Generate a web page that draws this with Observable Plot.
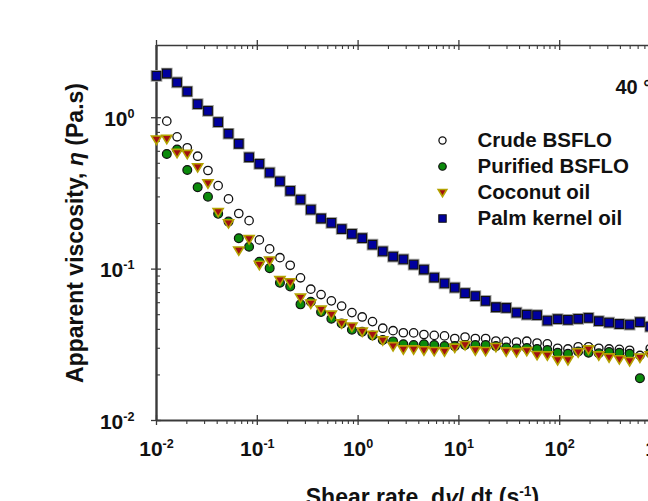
<!DOCTYPE html>
<html><head><meta charset="utf-8">
<script src="https://cdn.jsdelivr.net/npm/d3@7"></script>
<script src="https://cdn.jsdelivr.net/npm/@observablehq/plot@0.6"></script>
<style>
html,body{margin:0;padding:0;background:#fff;overflow:hidden;width:648px;height:501px}
#chart{width:648px;height:501px;overflow:hidden}
#chart svg{display:block;max-width:none!important}
</style></head><body><div id="chart"></div>
<script>
// Shear rate (1/s)
const shearRate = [0.0100,0.01265,0.0160,0.0202,0.0256,0.0324,0.0409,0.0518,0.0655,0.0829,
  0.1048,0.1326,0.1677,0.2121,0.2683,0.3393,0.4292,0.5429,0.6866,0.8685,
  1.0985,1.389,1.757,2.223,2.812,3.556,4.498,5.690,7.197,9.103,
  11.51,14.56,18.42,23.30,29.47,37.28,47.15,59.64,75.43,95.41,
  120.7,152.6,193.1,244.2,308.9,390.7,494.1,625.0,790.6,1000];
// Apparent viscosity (Pa.s)
const crudeBSFLO = [null,0.949,0.748,0.633,0.557,0.448,0.356,0.291,0.233,0.209,
  0.156,0.136,0.119,0.106,0.0876,0.0737,0.0679,0.0617,0.0570,0.0516,
  0.0483,0.0450,0.0407,0.0392,0.0380,0.0379,0.0370,0.0365,0.0362,0.0348,
  0.0356,0.0348,0.0348,0.0335,0.0333,0.0330,0.0334,0.0325,0.0321,0.0300,
  0.0297,0.0307,0.0307,0.0300,0.0297,0.0295,0.0291,0.0269,0.0299,0.0300];
const purifiedBSFLO = [null,0.576,0.617,0.452,0.347,0.301,0.232,0.206,0.160,0.1405,
  0.1117,0.1015,0.0812,0.0769,0.0585,0.0609,0.0521,0.0470,0.0438,0.0398,
  0.0386,0.0364,0.0340,0.0333,0.0319,0.0315,0.0319,0.0315,0.0310,0.0310,
  0.0315,0.0315,0.0315,0.0310,0.0303,0.0299,0.0301,0.0297,0.0292,0.0280,
  0.0276,0.0286,0.0280,0.0278,0.0283,0.0280,0.0276,0.0190,0.0279,0.0280];
const coconutOil = [0.718,0.726,0.586,0.577,0.471,0.369,0.2385,0.2010,0.1328,0.1580,
  0.1068,0.1140,0.0846,0.0818,0.0648,0.0592,0.0540,0.0500,0.0438,0.0418,
  0.0387,0.0368,0.0338,0.0310,0.0295,0.0295,0.0291,0.0288,0.0286,0.0303,
  0.0315,0.0291,0.0288,0.0306,0.0286,0.0283,0.0288,0.0271,0.0269,0.0251,
  0.0251,0.0282,0.0295,0.0269,0.0261,0.0254,0.0247,0.0260,0.0269,0.0270];
const palmKernelOil = [1.89,1.96,1.71,1.49,1.23,1.11,0.935,0.784,0.673,0.548,
  0.496,0.434,0.380,0.329,0.288,0.247,0.216,0.202,0.184,0.171,
  0.160,0.145,0.131,0.121,0.116,0.107,0.0993,0.0880,0.0805,0.0755,
  0.0694,0.0663,0.0617,0.0560,0.0554,0.0516,0.0500,0.0496,0.0457,0.0467,
  0.0462,0.0469,0.0476,0.0453,0.0443,0.0434,0.0430,0.0446,0.0417,0.0420];

const seriesNames = ["Crude BSFLO","Purified BSFLO","Coconut oil","Palm kernel oil"];
const seriesValues = [crudeBSFLO, purifiedBSFLO, coconutOil, palmKernelOil];
const xTickExps = [-2,-1,0,1,2,3];
const yTickExps = [-2,-1,0];
const xDomain = [0.01, 1000];
const yDomain = [0.01, 3];
const xTitle = "Shear rate, d*γ*/ dt (s^{-1})";
const yTitle = "Apparent viscosity, *η* (Pa.s)";
const tempLabel = "40 °C";

// minor ticks
const xMinor = [], yMinor = [];
for (let e = -2; e <= 2; e++) for (let m = 2; m <= 9; m++) xMinor.push(m * 10 ** e);
for (let e = -2; e <= 0; e++) for (let m = 2; m <= 9; m++) { const v = m * 10 ** e; if (v < yDomain[1]) yMinor.push(v); }

const rows = [];
seriesNames.forEach((s, i) => seriesValues[i].forEach((v, k) => { if (v != null) rows.push({x: shearRate[k], y: v, series: s}); }));

const downTriangle = {
  draw(ctx, size) {
    const r = Math.sqrt(size / Math.PI);
    ctx.moveTo(-1.15 * r, -0.8 * r);
    ctx.lineTo(1.15 * r, -0.8 * r);
    ctx.lineTo(0, 1.1 * r);
    ctx.closePath();
  }
};
const styles = {
  "Crude BSFLO": {symbol: "circle", fill: "#fff", stroke: "#111", strokeWidth: 1.3, r: 4.2},
  "Purified BSFLO": {symbol: "circle", fill: "#0b8a0b", stroke: "#111", strokeWidth: 1.2, r: 4.4},
  "Coconut oil": {symbol: downTriangle, fill: "#a31010", stroke: "#b3a200", strokeWidth: 1.6, r: 4.4},
  "Palm kernel oil": {symbol: "square", fill: "#00009e", stroke: "#111", strokeWidth: 1.1, r: 4.9}
};

const W = 700, H = 501, mL = 156, mR = 40, mT = 45, mB = 81;
const pH = H - mT - mB, pW = W - mL - mR;
const font = "'Liberation Sans', Arial, sans-serif";
const axisColor = "#3a3a3a";
const txt = {fontWeight: "bold", fill: "#111", lineAnchor: "middle"};

const marks = [];
// frame lines
marks.push(Plot.ruleX([xDomain[0]], {x: d => d, stroke: axisColor, strokeWidth: 2.4}));
marks.push(Plot.ruleY([yDomain[0]], {y: d => d, stroke: axisColor, strokeWidth: 1.8}));
marks.push(Plot.ruleY([yDomain[1]], {y: d => d, stroke: axisColor, strokeWidth: 1.6}));
// ticks
const majX = xTickExps.map(e => 10 ** e);
const majY = yTickExps.map(e => 10 ** e);
marks.push(Plot.tickX(majX, {x: d => d, insetTop: pH - 5, insetBottom: -5, stroke: axisColor, strokeWidth: 1.3}));
marks.push(Plot.tickX(xMinor, {x: d => d, insetTop: pH, insetBottom: -4, stroke: axisColor, strokeWidth: 1.1}));
marks.push(Plot.tickX(majX, {x: d => d, insetTop: -5, insetBottom: pH - 5, stroke: axisColor, strokeWidth: 1.3}));
marks.push(Plot.tickX(xMinor, {x: d => d, insetTop: 0, insetBottom: pH - 4, stroke: axisColor, strokeWidth: 1.1}));
marks.push(Plot.tickY(majY, {y: d => d, insetLeft: -5, insetRight: pW - 5, stroke: axisColor, strokeWidth: 1.3}));
marks.push(Plot.tickY(yMinor, {y: d => d, insetLeft: 0, insetRight: pW - 4, stroke: axisColor, strokeWidth: 1.1}));
// tick labels
marks.push(Plot.text(xTickExps, {x: d => 10 ** d, text: d => "10^{" + d + "}", frameAnchor: "bottom", dy: 28.5, textAnchor: "middle", fontSize: 21, ...txt}));
marks.push(Plot.text(yTickExps, {y: d => 10 ** d, text: d => "10^{" + d + "}", frameAnchor: "left", dx: -22, dy: 1.5, textAnchor: "end", fontSize: 21, ...txt}));
// titles
marks.push(Plot.text([yTitle], {text: d => d, frameAnchor: "left", dx: -80.5, rotate: -90, textAnchor: "middle", fontSize: 23, ...txt}));
marks.push(Plot.text([xTitle], {text: d => d, frameAnchor: "bottom", dx: 14, dy: 77.5, textAnchor: "middle", fontSize: 23, ...txt}));
marks.push(Plot.text([tempLabel], {text: d => d, frameAnchor: "top-left", dx: 459, dy: 42, textAnchor: "start", fontSize: 20, ...txt}));
// data
for (const s of seriesNames) {
  const st = styles[s];
  const data = rows.filter(d => d.series === s);
  if (s === "Palm kernel oil") {
    marks.push(Plot.dot(data, {x: "x", y: "y", symbol: st.symbol, r: st.r, fill: "none", stroke: "#a0a0a0", strokeWidth: 3}));
  }
  marks.push(Plot.dot(data, {x: "x", y: "y", symbol: st.symbol, r: st.r, fill: st.fill, stroke: st.stroke, strokeWidth: st.strokeWidth}));
}
// legend
seriesNames.forEach((s, i) => {
  const st = styles[s];
  marks.push(Plot.dot([s], {frameAnchor: "top-left", dx: 286, dy: 95 + 26 * i, symbol: st.symbol, r: st.r * 0.85, fill: st.fill, stroke: st.stroke, strokeWidth: st.strokeWidth}));
  marks.push(Plot.text([s], {text: d => d, frameAnchor: "top-left", dx: 321, dy: 95 + 26 * i, textAnchor: "start", fontSize: 20.5, ...txt}));
});

const chart = Plot.plot({
  width: W, height: H,
  marginLeft: mL, marginRight: mR, marginTop: mT, marginBottom: mB,
  style: {fontFamily: font, background: "#fff", overflow: "visible", maxWidth: "none"},
  x: {type: "log", domain: xDomain, axis: null},
  y: {type: "log", domain: yDomain, axis: null},
  marks
});
chart.style.maxWidth = "none";
chart.setAttribute("width", W);
chart.setAttribute("height", H);
document.getElementById("chart").appendChild(chart);

// rich text: *x* italic, ^{x} superscript
function parseRich(str) {
  const parts = []; const re = /\*([^*]+)\*|\^\{([^}]+)\}|([^*^]+)/g; let m;
  while ((m = re.exec(str))) {
    if (m[1]) parts.push({t: m[1], it: true});
    else if (m[2]) parts.push({t: m[2], sup: true});
    else parts.push({t: m[3]});
  }
  return parts;
}
chart.querySelectorAll('text').forEach(el => {
  const src = el.textContent;
  if (!/\^\{|\*/.test(src)) return;
  const g = el.closest('[font-size]');
  const base = g ? parseFloat(g.getAttribute('font-size')) : 20;
  const raise = Math.round(base * 0.37);
  const parts = parseRich(src);
  el.textContent = "";
  let shift = 0;
  for (const p of parts) {
    const ts = document.createElementNS("http://www.w3.org/2000/svg", "tspan");
    ts.textContent = p.t;
    if (p.sup) {
      ts.setAttribute("font-size", base * 0.6);
      ts.setAttribute("dy", -raise - shift); shift = -raise;
    } else if (shift) { ts.setAttribute("dy", -shift); shift = 0; }
    if (p.it) ts.setAttribute("font-style", "italic");
    el.appendChild(ts);
  }
});
</script></body></html>
